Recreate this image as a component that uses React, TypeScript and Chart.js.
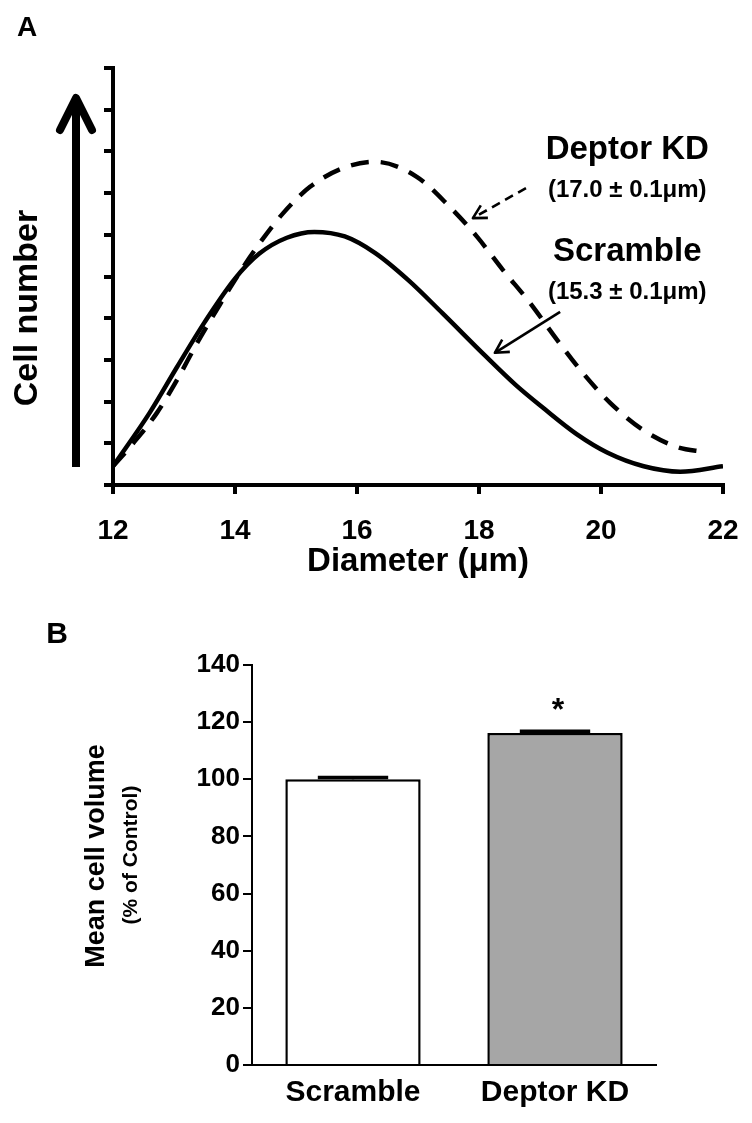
import React, { useEffect, useRef } from "react";
import { Chart, registerables } from "chart.js";

Chart.register(...registerables);

const FONT = '"Liberation Sans", Arial, Helvetica, sans-serif';

// ---------- Panel A data ----------
const diameterTicks = [12, 14, 16, 18, 20, 22];
const cellNumberTicks = [0, 1, 2, 3, 4, 5, 6, 7, 8, 9, 10];

const scrambleDiameter = [12.0, 12.6, 13.05, 13.5, 14.0, 14.4, 14.85, 15.3, 15.8, 16.3, 16.85, 17.4, 18.1, 18.6, 19.05, 19.6, 20.1, 20.7, 21.3, 22.0];
const scrambleCount = [0.45, 1.73, 2.83, 3.9, 4.95, 5.55, 5.93, 6.07, 5.96, 5.56, 4.9, 4.12, 3.1, 2.4, 1.85, 1.22, 0.78, 0.45, 0.32, 0.45];

const deptorDiameter = [12.0, 12.33, 12.72, 13.05, 13.38, 13.7, 14.03, 14.36, 14.79, 15.23, 15.77, 16.3, 16.98, 17.52, 17.97, 18.39, 18.84, 19.28, 19.7, 20.15, 20.69, 21.25, 21.7];
const deptorCount = [0.45, 1.0, 1.73, 2.52, 3.41, 4.2, 4.99, 5.71, 6.52, 7.15, 7.6, 7.75, 7.39, 6.67, 5.95, 5.16, 4.36, 3.48, 2.69, 1.97, 1.32, 0.91, 0.79];

const seriesNames = ["Deptor KD", "Scramble"];
const seriesMeans = ["(17.0 ± 0.1μm)", "(15.3 ± 0.1μm)"];

// annotation anchors in data units (diameter, cell number)
const labelAnchorX = 20.43;
const labelNameY = [8.03, 5.59];
const labelMeanY = [7.07, 4.63];
const arrowFrom = [[18.77, 7.12], [19.33, 4.15]];
const arrowTo = [[17.9, 6.4], [18.26, 3.17]];

// ---------- Panel B data ----------
const groups = ["Scramble", "Deptor KD"];
const meanVolume = [100, 116.2];
const semVolume = [0.6, 0.6];
const significance = ["", "*"];
const volumeTicks = [0, 20, 40, 60, 80, 100, 120, 140];

function drawOpenArrow(ctx: CanvasRenderingContext2D, x1: number, y1: number, x2: number, y2: number, head: number, dashed: boolean, lw: number) {
  ctx.save();
  ctx.strokeStyle = "#000";
  ctx.lineWidth = lw;
  ctx.lineCap = "butt";
  if (dashed) ctx.setLineDash([9, 6]);
  ctx.beginPath();
  ctx.moveTo(x1, y1);
  ctx.lineTo(x2, y2);
  ctx.stroke();
  ctx.setLineDash([]);
  const ang = Math.atan2(y2 - y1, x2 - x1);
  ctx.beginPath();
  ctx.moveTo(x2 - head * Math.cos(ang - 0.5), y2 - head * Math.sin(ang - 0.5));
  ctx.lineTo(x2, y2);
  ctx.lineTo(x2 - head * Math.cos(ang + 0.5), y2 - head * Math.sin(ang + 0.5));
  ctx.stroke();
  ctx.restore();
}

const panelAPlugin = {
  id: "panelADecor",
  afterDraw(chart: any) {
    const ctx = chart.ctx as CanvasRenderingContext2D;
    const xs = chart.scales.x;
    const ys = chart.scales.y;
    const area = chart.chartArea;
    ctx.save();
    // panel letter
    ctx.fillStyle = "#000";
    ctx.font = `bold 28px ${FONT}`;
    ctx.textAlign = "center";
    ctx.textBaseline = "middle";
    ctx.fillText("A", 27, 28);

    // big upward arrow
    const ax = area.left - 37;
    const aBottom = area.bottom - 18;
    const aTop = area.top + 30;
    ctx.strokeStyle = "#000";
    ctx.lineWidth = 8;
    ctx.lineCap = "butt";
    ctx.beginPath();
    ctx.moveTo(ax, aBottom);
    ctx.lineTo(ax, aTop + 4);
    ctx.stroke();
    ctx.lineCap = "round";
    ctx.lineJoin = "round";
    ctx.beginPath();
    ctx.moveTo(ax - 16, aTop + 32);
    ctx.lineTo(ax, aTop);
    ctx.lineTo(ax + 16, aTop + 32);
    ctx.stroke();

    // y title
    ctx.save();
    ctx.translate(28, 308);
    ctx.rotate(-Math.PI / 2);
    ctx.font = `bold 34px ${FONT}`;
    ctx.textAlign = "center";
    ctx.textBaseline = "middle";
    ctx.fillText("Cell number", 0, 0);
    ctx.restore();

    // series labels
    const lx = xs.getPixelForValue(labelAnchorX);
    for (let i = 0; i < seriesNames.length; i++) {
      ctx.font = `bold 33px ${FONT}`;
      ctx.textAlign = "center";
      ctx.textBaseline = "middle";
      ctx.fillText(seriesNames[i], lx, ys.getPixelForValue(labelNameY[i]));
      ctx.font = `bold 24px ${FONT}`;
      ctx.fillText(seriesMeans[i], lx, ys.getPixelForValue(labelMeanY[i]));
      drawOpenArrow(
        ctx,
        xs.getPixelForValue(arrowFrom[i][0]), ys.getPixelForValue(arrowFrom[i][1]),
        xs.getPixelForValue(arrowTo[i][0]), ys.getPixelForValue(arrowTo[i][1]),
        15, i === 0, 2.6
      );
    }
    ctx.restore();
  },
};

const panelBPlugin = {
  id: "panelBDecor",
  afterDatasetsDraw(chart: any) {
    const ctx = chart.ctx as CanvasRenderingContext2D;
    const ys = chart.scales.y;
    const meta = chart.getDatasetMeta(0);
    ctx.save();
    ctx.strokeStyle = "#000";
    ctx.fillStyle = "#000";
    meta.data.forEach((bar: any, i: number) => {
      const half = bar.width * 0.26;
      const yTop = ys.getPixelForValue(meanVolume[i] + semVolume[i]);
      const yMean = ys.getPixelForValue(meanVolume[i]);
      ctx.lineWidth = 2.5;
      ctx.beginPath();
      ctx.moveTo(bar.x, yMean);
      ctx.lineTo(bar.x, yTop);
      ctx.stroke();
      ctx.lineWidth = 3.5;
      ctx.beginPath();
      ctx.moveTo(bar.x - half, yTop);
      ctx.lineTo(bar.x + half, yTop);
      ctx.stroke();
      if (significance[i]) {
        ctx.font = `bold 32px ${FONT}`;
        ctx.textAlign = "center";
        ctx.textBaseline = "middle";
        ctx.fillText(significance[i], bar.x + 3, yTop - 20);
      }
    });
    ctx.restore();
  },
  afterDraw(chart: any) {
    const ctx = chart.ctx as CanvasRenderingContext2D;
    ctx.save();
    ctx.fillStyle = "#000";
    ctx.font = `bold 30px ${FONT}`;
    ctx.textAlign = "center";
    ctx.textBaseline = "middle";
    ctx.fillText("B", 57, 35);

    ctx.save();
    ctx.translate(97, 256);
    ctx.rotate(-Math.PI / 2);
    ctx.font = `bold 27px ${FONT}`;
    ctx.fillText("Mean cell volume", 0, 0);
    ctx.restore();

    ctx.save();
    ctx.translate(131, 255);
    ctx.rotate(-Math.PI / 2);
    ctx.font = `bold 21px ${FONT}`;
    ctx.fillText("(% of Control)", 0, 0);
    ctx.restore();
    ctx.restore();
  },
};

function PanelA() {
  const ref = useRef<HTMLCanvasElement>(null);
  useEffect(() => {
    const chart = new Chart(ref.current as HTMLCanvasElement, {
      type: "line",
      data: {
        datasets: [
          {
            label: "Scramble",
            data: scrambleDiameter.map((x, i) => ({ x, y: scrambleCount[i] })),
            borderColor: "#000",
            borderWidth: 4.5,
            pointRadius: 0,
            cubicInterpolationMode: "monotone",
            fill: false,
          },
          {
            label: "Deptor KD",
            data: deptorDiameter.map((x, i) => ({ x, y: deptorCount[i] })),
            borderColor: "#000",
            borderWidth: 4.5,
            borderDash: [18, 12],
            pointRadius: 0,
            cubicInterpolationMode: "monotone",
            fill: false,
          },
        ],
      },
      options: {
        responsive: false,
        animation: false,
        layout: { padding: { left: 0, right: 37, top: 68, bottom: 0 } },
        plugins: { legend: { display: false }, tooltip: { enabled: false } },
        scales: {
          x: {
            type: "linear",
            min: diameterTicks[0],
            max: diameterTicks[diameterTicks.length - 1],
            afterBuildTicks: (s: any) => {
              s.ticks = diameterTicks.map((v) => ({ value: v }));
            },
            ticks: {
              font: { family: FONT, size: 28, weight: "bold" },
              color: "#000",
              padding: 20,
              maxRotation: 0,
              autoSkip: false,
            },
            grid: { display: true, drawOnChartArea: false, drawTicks: true, tickLength: 9, tickWidth: 4, lineWidth: 4, color: "#000" },
            border: { display: true, width: 4, color: "#000" },
            title: {
              display: true,
              text: "Diameter (μm)",
              color: "#000",
              font: { family: FONT, size: 33, weight: "bold", lineHeight: 1.2 },
              padding: { top: 0, bottom: 18 },
            },
            afterFit: (s: any) => {
              s.height = 115;
            },
          },
          y: {
            type: "linear",
            min: 0,
            max: 10,
            afterBuildTicks: (s: any) => {
              s.ticks = cellNumberTicks.map((v) => ({ value: v }));
            },
            ticks: { display: false },
            grid: { display: true, drawOnChartArea: false, drawTicks: true, tickLength: 9, tickWidth: 4, lineWidth: 4, color: "#000" },
            border: { display: true, width: 4, color: "#000" },
            afterFit: (s: any) => {
              s.width = 113;
            },
          },
        },
      },
      plugins: [panelAPlugin],
    } as any);
    return () => chart.destroy();
  }, []);
  return (
    <canvas
      ref={ref}
      width={760}
      height={600}
      style={{ position: "absolute", left: 0, top: 0, width: 760, height: 600 }}
    />
  );
}

function PanelB() {
  const ref = useRef<HTMLCanvasElement>(null);
  useEffect(() => {
    const chart = new Chart(ref.current as HTMLCanvasElement, {
      type: "bar",
      data: {
        labels: groups,
        datasets: [
          {
            data: meanVolume,
            backgroundColor: ["#ffffff", "#a6a6a6"],
            borderColor: "#000",
            borderWidth: 2.5,
            borderSkipped: "bottom",
            categoryPercentage: 1,
            barPercentage: 0.67,
          },
        ],
      },
      options: {
        responsive: false,
        animation: false,
        layout: { padding: { left: 0, right: 96, top: 65, bottom: 0 } },
        plugins: { legend: { display: false }, tooltip: { enabled: false } },
        scales: {
          x: {
            grid: { display: false },
            border: { display: true, width: 2, color: "#000" },
            ticks: { font: { family: FONT, size: 30, weight: "bold" }, color: "#000", padding: 2, maxRotation: 0 },
            afterFit: (s: any) => {
              s.height = 58;
            },
          },
          y: {
            min: volumeTicks[0],
            max: volumeTicks[volumeTicks.length - 1],
            afterBuildTicks: (s: any) => {
              s.ticks = volumeTicks.map((v) => ({ value: v }));
            },
            ticks: { font: { family: FONT, size: 26, weight: "bold" }, color: "#000", padding: 3 },
            grid: { display: true, drawOnChartArea: false, drawTicks: true, tickLength: 9, tickWidth: 2, lineWidth: 2, color: "#000" },
            border: { display: true, width: 2, color: "#000" },
            afterFit: (s: any) => {
              s.width = 252;
            },
          },
        },
      },
      plugins: [panelBPlugin],
    } as any);
    return () => chart.destroy();
  }, []);
  return (
    <canvas
      ref={ref}
      width={752}
      height={523}
      style={{ position: "absolute", left: 0, top: 600, width: 752, height: 523 }}
    />
  );
}

export default function App() {
  return (
    <div style={{ position: "absolute", left: 0, top: 0, width: 752, height: 1123, background: "#fff", overflow: "hidden" }}>
      <PanelA />
      <PanelB />
    </div>
  );
}
